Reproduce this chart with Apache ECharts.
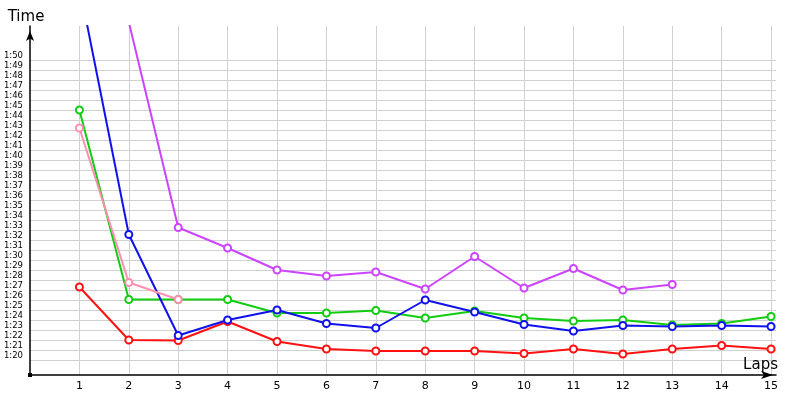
<!DOCTYPE html>
<html>
<head>
<meta charset="UTF-8">
<title>Lap times</title>
<style>
  html, body { margin: 0; padding: 0; background: #fff; }
  #main { width: 800px; height: 400px; }
</style>
</head>
<body>
<div id="main"></div>
<script src="https://cdn.jsdelivr.net/npm/echarts@6/dist/echarts.min.js"></script>
<script>
// lap numbers and lap times in seconds (80 = 1:20)
var laps = [1, 2, 3, 4, 5, 6, 7, 8, 9, 10, 11, 12, 13, 14, 15];
var redTimes = [87.3, 82.0, 81.95, 83.85, 81.85, 81.1, 80.9, 80.9, 80.9, 80.65, 81.1, 80.6, 81.1, 81.45, 81.1];
var greenTimes = [105.0, 86.05, 86.05, 86.05, 84.7, 84.7, 84.95, 84.2, 84.9, 84.2, 83.9, 84.0, 83.5, 83.65, 84.35];
var blueTimes = [117.4, 92.55, 82.45, 84.0, 85.0, 83.65, 83.2, 86.0, 84.8, 83.55, 82.9, 83.45, 83.35, 83.45, 83.35];
var violetTimes = [null, 113.8, 93.25, 91.2, 89.0, 88.4, 88.8, 87.1, 90.35, 87.2, 89.15, 87.0, 87.55];
var pinkTimes = [103.2, 87.75, 86.05];

var yTicks = [80, 81, 82, 83, 84, 85, 86, 87, 88, 89, 90, 91, 92, 93, 94, 95,
              96, 97, 98, 99, 100, 101, 102, 103, 104, 105, 106, 107, 108, 109, 110];

function toPairs(vals) {
  return vals.map(function (v, i) { return [laps[i], v]; });
}

function fmtTime(v) {
  var m = Math.floor(v / 60);
  var s = Math.round(v - m * 60);
  return m + ':' + (s < 10 ? '0' + s : s);
}

function lapSeries(name, color, vals) {
  return {
    name: name,
    type: 'line',
    data: toPairs(vals),
    symbol: 'emptyCircle',
    symbolSize: 7,
    showAllSymbol: true,
    clip: true,
    lineStyle: { color: color, width: 2 },
    itemStyle: { color: color, borderWidth: 1 }
  };
}

var myChart = echarts.init(document.getElementById('main'));
var option = {
  animation: false,
  grid: { left: 30, right: 24, top: 26, bottom: 25, outerBoundsMode: 'none' },
  xAxis: {
    type: 'value',
    min: 0,
    max: 15.1,
    name: 'Laps',
    nameLocation: 'end',
    nameGap: 2,
    nameTextStyle: {
      fontFamily: 'DejaVu Sans', fontSize: 15, color: '#000',
      align: 'right', verticalAlign: 'bottom', padding: [0, 0, 2, 0]
    },
    axisLine: {
      lineStyle: { color: '#000', width: 1.5 },
      symbol: ['none', 'arrow'],
      symbolSize: [6, 12],
      symbolOffset: [0, -3]
    },
    axisTick: { show: false, customValues: laps },
    axisLabel: {
      customValues: laps,
      fontFamily: 'DejaVu Sans', fontSize: 11, color: '#000', margin: 6
    },
    splitLine: { show: true, lineStyle: { color: '#d0d0d0', width: 1 } }
  },
  yAxis: {
    type: 'value',
    min: 78.5,
    max: 113.4,
    name: 'Time',
    nameLocation: 'end',
    nameGap: 1,
    nameTextStyle: { fontFamily: 'DejaVu Sans', fontSize: 15, color: '#000', align: 'center', padding: [0, 8, 0, 0] },
    axisLine: {
      lineStyle: { color: '#000', width: 1.5 },
      symbol: ['none', 'arrow'],
      symbolSize: [6, 10],
      symbolOffset: [0, -5]
    },
    axisTick: { show: false, customValues: yTicks },
    axisLabel: {
      customValues: yTicks,
      formatter: fmtTime,
      fontFamily: 'DejaVu Sans', fontSize: 8.5, color: '#000',
      margin: 7, verticalAlign: 'bottom'
    },
    splitLine: { show: true, lineStyle: { color: '#d0d0d0', width: 1 } }
  },
  graphic: [{
    type: 'rect',
    shape: { x: 28, y: 373, width: 4, height: 4 },
    style: { fill: '#000' },
    z: 100
  }],
  series: [
    lapSeries('green', '#11cc11', greenTimes),
    lapSeries('red', '#ff1111', redTimes),
    lapSeries('blue', '#1111ee', blueTimes),
    lapSeries('pink', '#ff8fb0', pinkTimes),
    lapSeries('violet', '#cc44ff', violetTimes)
  ]
};
myChart.setOption(option);
</script>
</body>
</html>
